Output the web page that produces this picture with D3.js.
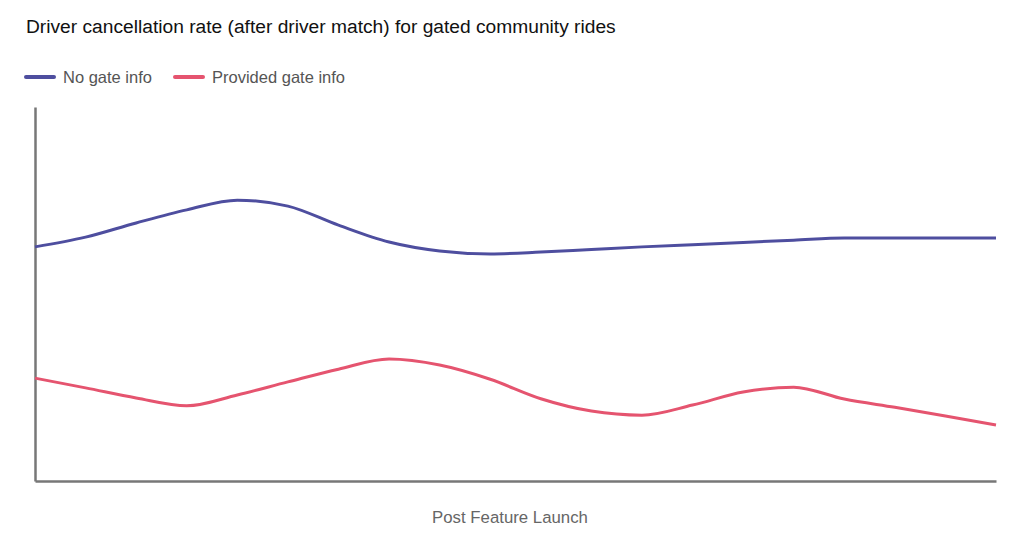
<!DOCTYPE html>
<html><head><meta charset="utf-8">
<script src="https://cdn.jsdelivr.net/npm/d3@7"></script>
<style>body{margin:0;background:#fff}svg{display:block;font-family:"Liberation Sans",Arial,sans-serif}</style>
</head><body><svg id="c" width="1024" height="536"></svg>
<script>
const title = "Driver cancellation rate (after driver match) for gated community rides";
const xLabel = "Post Feature Launch";
const seriesNames = ["No gate info", "Provided gate info"];
const seriesColors = ["#4e4e9f", "#e5546f"];
const periods = d3.range(20);
const noGateInfo = [6.26,6.52,6.90,7.25,7.51,7.35,6.84,6.39,6.15,6.07,6.12,6.19,6.26,6.32,6.38,6.44,6.50,6.50,6.50,6.50];
const providedGateInfo = [2.75,2.49,2.22,2.01,2.30,2.65,2.99,3.26,3.10,2.72,2.20,1.87,1.76,2.03,2.38,2.51,2.19,1.97,1.74,1.50];
const yDomain = [0, 10];

const svg = d3.select("#c");
const m = {left:35, right:996, top:107, bottom:481};
const x = d3.scaleLinear().domain([0, periods.length-1]).range([m.left, m.right]);
const y = d3.scaleLinear().domain(yDomain).range([m.bottom, m.top]);

svg.append("text").attr("x",26).attr("y",33).attr("font-size",19.2).attr("fill","#111").text(title);

// legend
const legX = [26, 175];
seriesNames.forEach((n,i)=>{
  const g = svg.append("g").attr("transform",`translate(${legX[i]},77)`);
  g.append("line").attr("x1",0).attr("x2",28).attr("y1",0).attr("y2",0)
    .attr("stroke",seriesColors[i]).attr("stroke-width",4).attr("stroke-linecap","round");
  g.append("text").attr("x",37).attr("y",6).attr("font-size",16.5).attr("fill","#555").text(n);
});

// axes (no ticks)
svg.append("g").attr("transform",`translate(0,${m.bottom})`)
  .call(d3.axisBottom(x).tickValues([]).tickSizeOuter(0))
  .call(g=>g.select(".domain").attr("stroke","#777").attr("stroke-width",2.5));
svg.append("g").attr("transform",`translate(${m.left},0)`)
  .call(d3.axisLeft(y).tickValues([]).tickSizeOuter(0))
  .call(g=>g.select(".domain").attr("stroke","#777").attr("stroke-width",2.5));

const line = d3.line().x((d,i)=>x(periods[i])).y(d=>y(d)).curve(d3.curveMonotoneX);
[noGateInfo, providedGateInfo].forEach((s,i)=>{
  svg.append("path").datum(s).attr("d",line).attr("fill","none")
    .attr("stroke",seriesColors[i]).attr("stroke-width",3);
});

svg.append("text").attr("x",510).attr("y",523).attr("text-anchor","middle")
  .attr("font-size",16.8).attr("fill","#666").text(xLabel);
</script></body></html>
